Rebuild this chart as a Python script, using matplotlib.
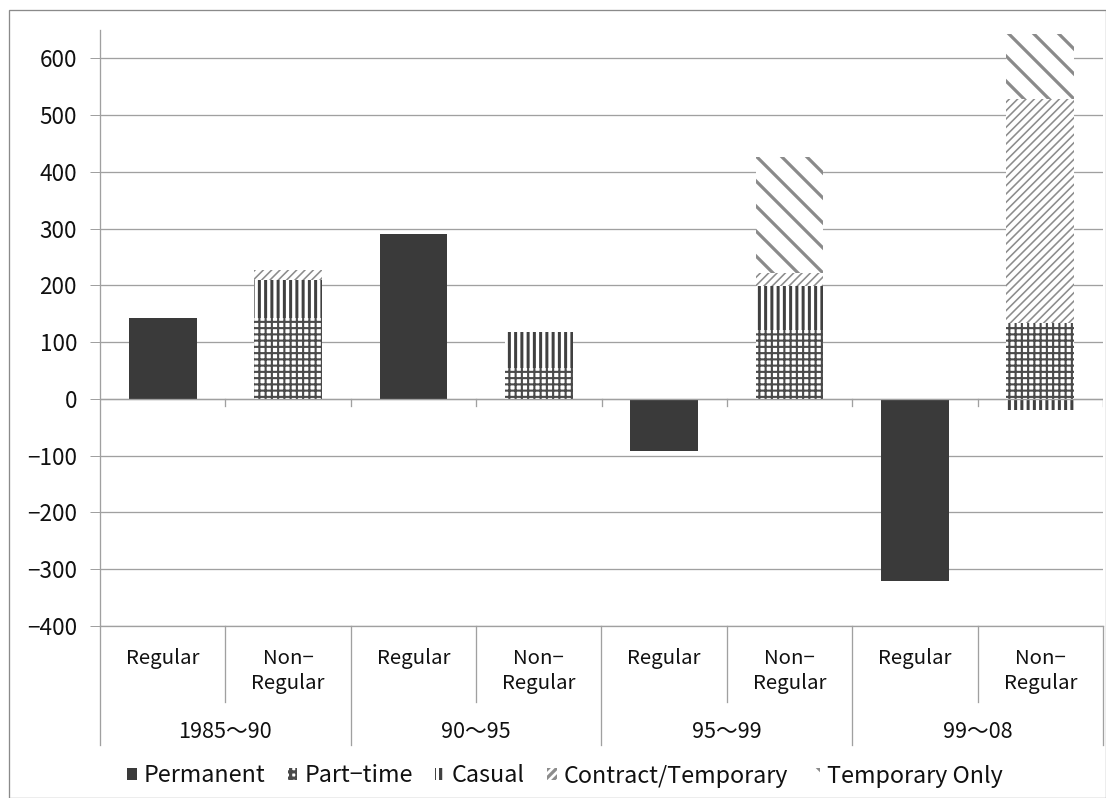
import matplotlib
matplotlib.use("Agg")
import matplotlib.pyplot as plt
from matplotlib.patches import Patch, Rectangle
from matplotlib.lines import Line2D
import numpy as np

plt.rcParams['font.family'] = ['Noto Sans CJK JP', 'DejaVu Sans']

# ---- data ----
periods = ['1985〜90', '90〜95', '95〜99', '99〜08']
kinds = ['Regular', 'Non−\nRegular']
series_names = ['Permanent', 'Part−time', 'Casual', 'Contract/Temporary', 'Temporary Only']
permanent = [143, 0, 291, 0, -92, 0, -320, 0]
part_time = [0, 143, 0, 55, 0, 121, 0, 134]
casual = [0, 67, 0, 63, 0, 78, 0, -20]
contract = [0, 17, 0, 0, 0, 23, 0, 394]
temp_only = [0, 0, 0, 0, 0, 204, 0, 115]
yticks = [-400, -300, -200, -100, 0, 100, 200, 300, 400, 500, 600]

W, H, DPI = 1106, 798, 150
PX = 72.0 / DPI  # points per pixel

fig = plt.figure(figsize=(W / DPI, H / DPI), dpi=DPI)

def fx(p):
    return p / W

def fy(p):
    return 1 - p / H

ax = fig.add_axes([fx(100), fy(626), fx(1103) - fx(100), fy(30) - fy(626)])
ax.set_xlim(-0.5, 7.5)
ax.set_ylim(-400, 650)

styles = [
    dict(facecolor='#3a3a3a', edgecolor='#3a3a3a', hatch=None, hlw=1.0),
    dict(facecolor='white', edgecolor='#4a4a4a', hatch='++++', hlw=2.1),
    dict(facecolor='white', edgecolor='#404040', hatch='||||', hlw=3.0),
    dict(facecolor='white', edgecolor='#8c8c8c', hatch='//////', hlw=1.6),
    dict(facecolor='white', edgecolor='#8a8a8a', hatch='\\\\', hlw=3.2),
]
data = [permanent, part_time, casual, contract, temp_only]

x = np.arange(8)
pos_bottom = np.zeros(8)
neg_bottom = np.zeros(8)
bw = 0.54
for vals, st in zip(data, styles):
    vals = np.array(vals, dtype=float)
    bottoms = np.where(vals >= 0, pos_bottom, neg_bottom)
    plt.rcParams['hatch.linewidth'] = st['hlw'] * PX
    bars = ax.bar(x, vals, bw, bottom=bottoms, facecolor=st['facecolor'],
                  edgecolor=st['edgecolor'], linewidth=0, hatch=st['hatch'], zorder=3)
    for b in bars:
        if hasattr(b, 'set_hatch_linewidth'):
            b.set_hatch_linewidth(st['hlw'] * PX)
    pos_bottom = pos_bottom + np.where(vals > 0, vals, 0)
    neg_bottom = neg_bottom + np.where(vals < 0, vals, 0)

gray = '#a0a0a0'
txt = '#111111'
ax.set_yticks(yticks)
ax.yaxis.grid(True, color=gray, linewidth=1.3 * PX, zorder=0)
ax.set_axisbelow(True)
ax.tick_params(axis='y', length=5, width=1.0 * PX, color=gray, labelsize=10.8,
               pad=6, labelcolor=txt)
ax.set_xticks([])
for s in ['top', 'right']:
    ax.spines[s].set_visible(False)
ax.spines['left'].set_color(gray)
ax.spines['left'].set_linewidth(1.3 * PX)
ax.spines['bottom'].set_color(gray)
ax.spines['bottom'].set_linewidth(1.3 * PX)

# zero axis line with ticks at slot boundaries
ax.axhline(0, color=gray, linewidth=1.3 * PX, zorder=4)
for b in np.arange(0.5, 8, 1.0):
    ax.plot([b, b], [0, -7 / 0.5676], color=gray, linewidth=1.3 * PX, zorder=4)

# category axis separators and labels
def xpix(xd):
    return 100 + (xd + 0.5) * (1003 / 8)

for b in [0.5, 2.5, 4.5, 6.5]:
    fig.add_artist(Line2D([fx(xpix(b))] * 2, [fy(626), fy(702)], color=gray,
                          linewidth=1.3 * PX))
for b in [-0.5, 1.5, 3.5, 5.5, 7.5]:
    fig.add_artist(Line2D([fx(xpix(b))] * 2, [fy(626), fy(745)], color=gray,
                          linewidth=1.3 * PX))

for i in range(8):
    fig.text(fx(xpix(i)), fy(648), kinds[i % 2], ha='center', va='top',
             fontsize=9.8, linespacing=1.25, color=txt)
for g in range(4):
    fig.text(fx(xpix(2 * g + 0.5)), fy(732), periods[g], ha='center', va='center',
             fontsize=10.4, color=txt)

# figure border
fig.add_artist(Rectangle((fx(9), fy(797.5)), fx(1106) - fx(9), fy(10) - fy(797.5),
                         fill=False, edgecolor='#8a8a8a', linewidth=1.3 * PX,
                         transform=fig.transFigure))

# legend
handles = []
for name, st in zip(series_names, styles):
    p = Patch(facecolor=st['facecolor'], edgecolor=st['edgecolor'], hatch=st['hatch'],
              linewidth=0, label=name)
    handles.append(p)
leg = fig.legend(handles=handles, loc='center', bbox_to_anchor=(fx(565), fy(776)),
                 ncol=5, frameon=False, fontsize=11.2, handlelength=0.42,
                 handleheight=0.42, handletextpad=0.3, columnspacing=0.95)
for t in leg.get_texts():
    t.set_color(txt)

fig.savefig('out.png', dpi=DPI)
